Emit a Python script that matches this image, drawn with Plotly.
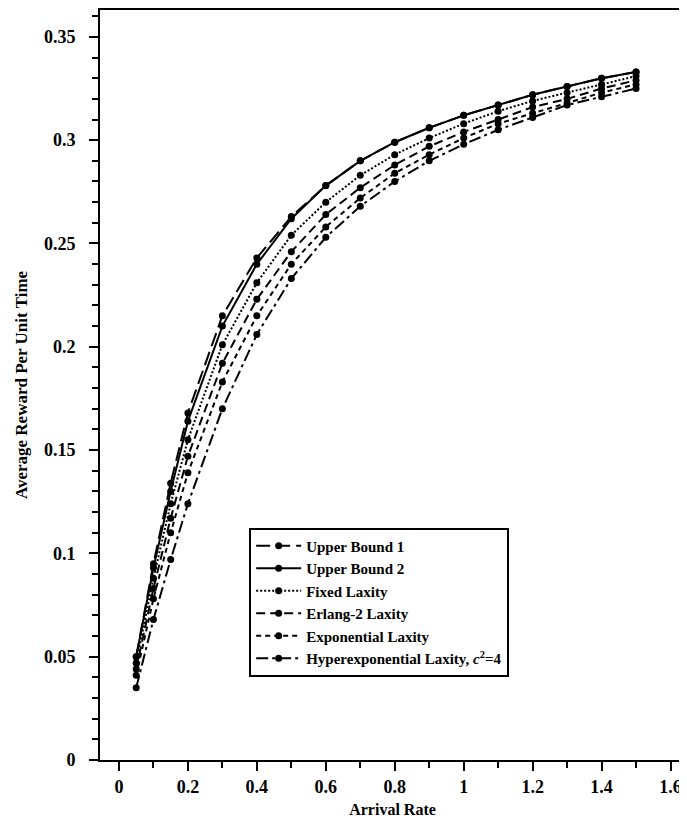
import plotly.graph_objects as go

arrival_rate = [0.05, 0.1, 0.15, 0.2, 0.3, 0.4, 0.5, 0.6, 0.7, 0.8, 0.9, 1.0, 1.1, 1.2, 1.3, 1.4, 1.5]

upper_bound_1 = [0.050, 0.095, 0.134, 0.168, 0.215, 0.243, 0.263, 0.278, 0.290, 0.299, 0.306, 0.312, 0.317, 0.322, 0.326, 0.330, 0.333]
upper_bound_2 = [0.050, 0.093, 0.130, 0.164, 0.210, 0.240, 0.262, 0.278, 0.290, 0.299, 0.306, 0.312, 0.317, 0.322, 0.326, 0.330, 0.333]
fixed_laxity = [0.047, 0.088, 0.124, 0.155, 0.201, 0.231, 0.254, 0.270, 0.283, 0.293, 0.301, 0.308, 0.314, 0.319, 0.323, 0.327, 0.331]
erlang2_laxity = [0.044, 0.083, 0.117, 0.147, 0.192, 0.223, 0.246, 0.264, 0.277, 0.288, 0.297, 0.304, 0.310, 0.316, 0.320, 0.325, 0.329]
exponential_laxity = [0.041, 0.078, 0.110, 0.139, 0.183, 0.215, 0.240, 0.258, 0.272, 0.284, 0.293, 0.301, 0.308, 0.313, 0.318, 0.323, 0.327]
hyperexp_laxity = [0.035, 0.068, 0.097, 0.124, 0.170, 0.206, 0.233, 0.253, 0.268, 0.280, 0.290, 0.298, 0.305, 0.311, 0.317, 0.321, 0.325]

x_ticks = [0, 0.2, 0.4, 0.6, 0.8, 1, 1.2, 1.4, 1.6]
x_tick_labels = ["0", "0.2", "0.4", "0.6", "0.8", "1", "1.2", "1.4", "1.6"]
y_ticks = [0, 0.05, 0.1, 0.15, 0.2, 0.25, 0.3, 0.35]
y_tick_labels = ["0", "0.05", "0.1", "0.15", "0.2", "0.25", "0.3", "0.35"]

series = [
    ("Upper Bound 1", upper_bound_1, "14px,6px"),
    ("Upper Bound 2", upper_bound_2, "solid"),
    ("Fixed Laxity", fixed_laxity, "2px,2px"),
    ("Erlang-2 Laxity", erlang2_laxity, "9px,5px"),
    ("Exponential Laxity", exponential_laxity, "5px,4px"),
    ("Hyperexponential Laxity, <i>c</i><sup>2</sup>=4", hyperexp_laxity, "12px,4px,3px,4px"),
]

fig = go.Figure()
for name, vals, dash in series:
    fig.add_trace(go.Scatter(
        x=arrival_rate, y=vals, name="<b>" + name + "</b>", mode="lines+markers",
        line=dict(color="black", width=2, dash=dash),
        marker=dict(color="black", size=7, symbol="circle"),
    ))

font_family = "Liberation Serif"
fig.update_layout(
    width=679, height=822,
    margin=dict(l=92, r=0, t=0, b=70),
    paper_bgcolor="white", plot_bgcolor="white",
    font=dict(family=font_family, color="black", size=15),
    showlegend=True,
    legend=dict(
        x=0.255, y=0.31, xanchor="left", yanchor="top",
        bgcolor="white", bordercolor="black", borderwidth=2,
        font=dict(family=font_family, size=15, color="black"),
        tracegroupgap=0, itemwidth=45,
    ),
    xaxis=dict(
        range=[-0.055, 1.642], tickmode="array",
        tickvals=x_ticks,
        ticktext=["<b>" + t + "</b>" for t in x_tick_labels],
        ticks="outside", ticklen=9, tickwidth=2, tickcolor="black",
        minor=dict(dtick=0.1, tick0=0, ticks="outside", ticklen=6, tickwidth=2, tickcolor="black"),
        showline=True, linewidth=2, linecolor="black", mirror=True,
        showgrid=False, zeroline=False,
        title=dict(text="<b>Arrival Rate</b>", font=dict(family=font_family, size=16), standoff=8),
        tickfont=dict(family=font_family, size=18),
    ),
    yaxis=dict(
        range=[0, 0.363], tickmode="array",
        tickvals=y_ticks,
        ticktext=["<b>" + t + "</b>" for t in y_tick_labels],
        ticks="outside", ticklen=9, tickwidth=2, tickcolor="black",
        minor=dict(dtick=0.01, tick0=0, ticks="outside", ticklen=6, tickwidth=2, tickcolor="black"),
        showline=True, linewidth=2, linecolor="black", mirror=True,
        showgrid=False, zeroline=False, ticklabelstandoff=10,
        title=dict(text="<b>Average Reward Per Unit Time</b>", font=dict(family=font_family, size=17), standoff=12),
        tickfont=dict(family=font_family, size=18),
    ),
)

fig.write_html("out.html")
